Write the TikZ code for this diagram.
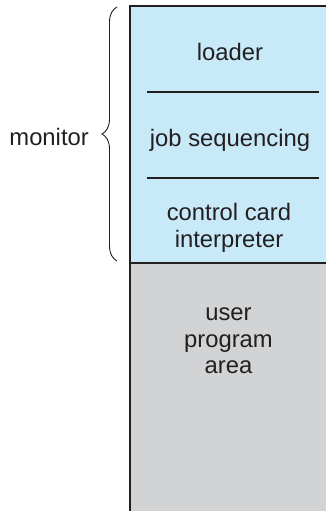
\documentclass[tikz,border=0pt]{standalone}
\usepackage{fontspec}
\setmainfont{Liberation Sans}
\usetikzlibrary{decorations.pathreplacing}
\definecolor{monblue}{RGB}{200,233,248}
\definecolor{usergray}{RGB}{209,211,212}
\definecolor{inkdark}{RGB}{35,31,32}

\begin{document}
\begin{tikzpicture}[x=1pt,y=1pt,
  lbl/.style={font=\fontsize{23.8}{26.8}\selectfont, text=inkdark, anchor=base, align=center, inner sep=0pt},
  sep/.style={line width=2.8pt, draw=inkdark}]
  % picture frame, memory column runs off right and bottom
  \clip (0,0) rectangle (326,511);
  % monitor part (blue) on top, user part (gray) below
  \fill[monblue]  (130,248) rectangle (340,505);
  \fill[usergray] (130,-5) rectangle (340,248);
  \draw[sep] (130,-5) -- (130,505) -- (340,505);
  \draw[sep] (130,248) -- (340,248);
  % lines between the monitor parts
  \draw[sep] (147,419) -- (319,419);
  \draw[sep] (147,333) -- (319,333);
  % labels (base = last line)
  \node[lbl] (loader) at (230,450) {loader};
  \node[lbl] (jobseq) at (230,364.5) {job sequencing};
  \node[lbl] (ccint) at (229,263.3) {control card\\interpreter};
  \node[lbl] (userarea) at (228.5,137) {user\\program\\area};
  % brace for the monitor
  \coordinate (bracebot) at (117,250);
  \coordinate (bracetop) at (117,504);
  \draw[inkdark, line width=0.9pt, decorate, decoration={brace, amplitude=15pt}] (bracebot) -- (bracetop);
  \node[lbl, anchor=base east] (monitor) at (89,365) {monitor};
\end{tikzpicture}
\end{document}
